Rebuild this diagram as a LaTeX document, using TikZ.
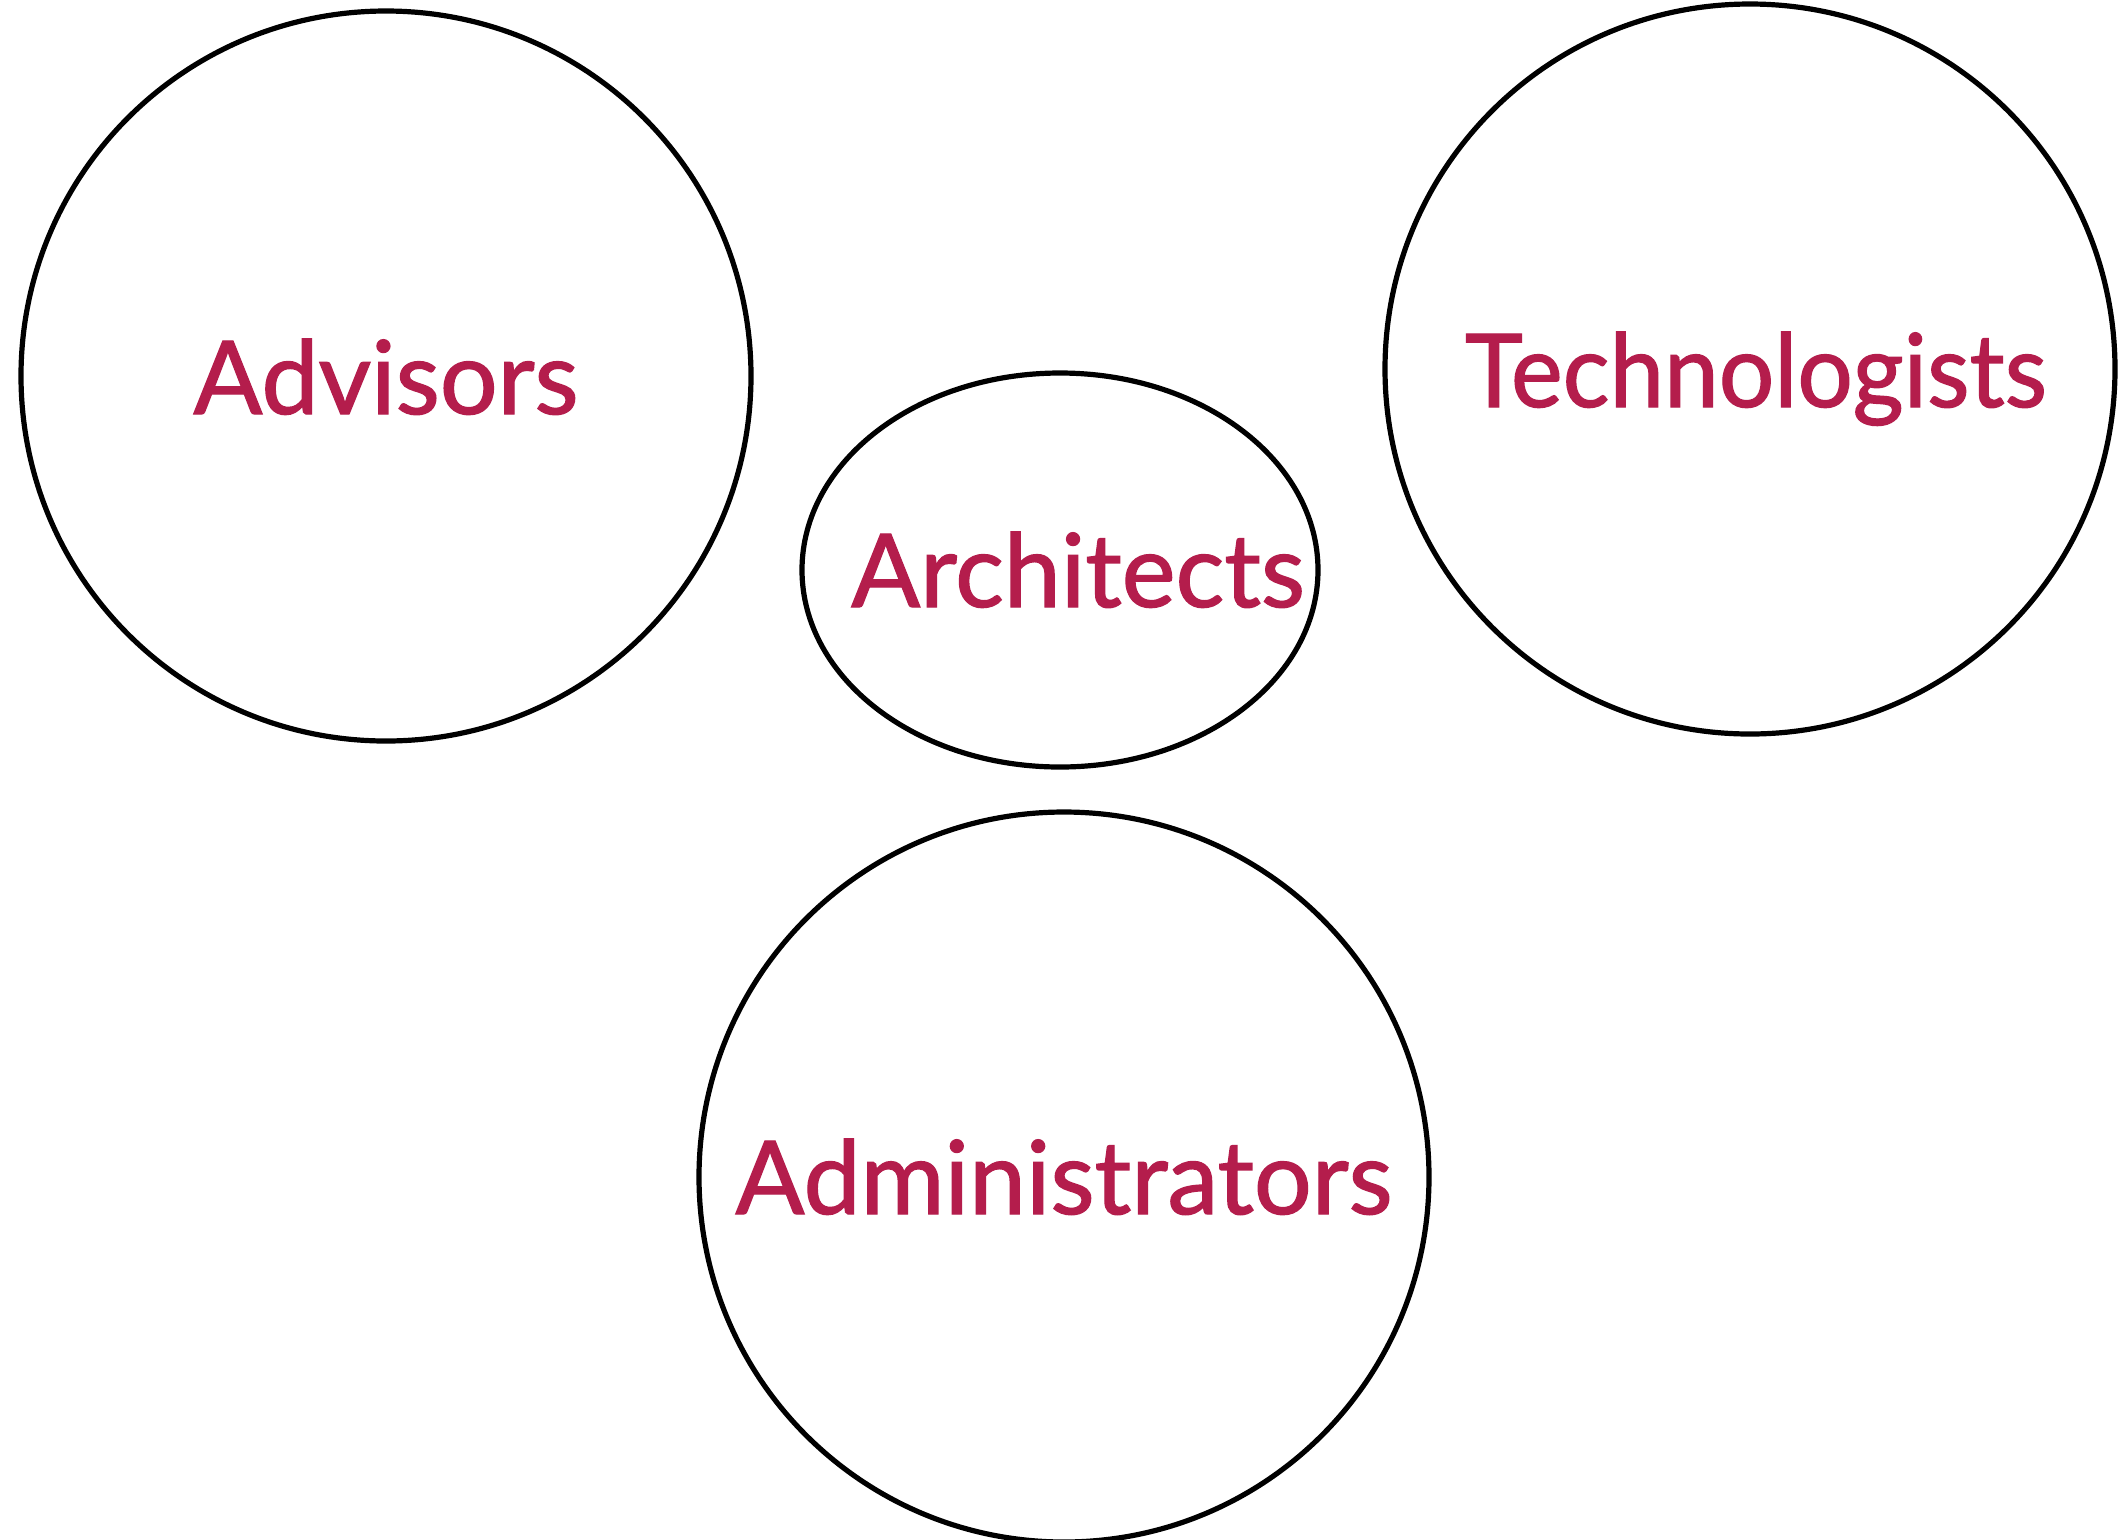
\documentclass[tikz,border=0pt]{standalone}
\usepackage{fontspec}
\setmainfont{Lato}
\newfontfamily\lblfont{Lato}[FakeBold=1.3]
\usetikzlibrary{shapes.geometric}
\definecolor{labelred}{RGB}{180,29,76}
\tikzset{
  ring/.style={draw=black, line width=2.6pt, circle, minimum size=365pt, inner sep=0pt},
  oval/.style={draw=black, line width=2.6pt, ellipse, minimum width=258pt, minimum height=197pt, inner sep=0pt},
  lbl/.style={anchor=base, inner sep=0pt, text=labelred, font=\lblfont\fontsize{51}{60}\selectfont}
}
\begin{document}
\begin{tikzpicture}[x=0.5pt,y=-0.5pt]
\useasboundingbox[fill=white] (0,0) rectangle (2121,1539);
\node[ring] (adv) at (386,376) {};
\node[ring] (tech) at (1750,369) {};
\node[oval] (arch) at (1060,570) {};
\node[ring] (admin) at (1064,1177) {};
\node[lbl] (advt) at (386,414) {Advisors};
\node[lbl] (techt) at (1756,407) {\scalebox{0.96}[1]{Technologists}};
\node[lbl] (archt) at (1078,607) {Architects};
\node[lbl] (admint) at (1064,1214) {Administrators};
\end{tikzpicture}
\end{document}
